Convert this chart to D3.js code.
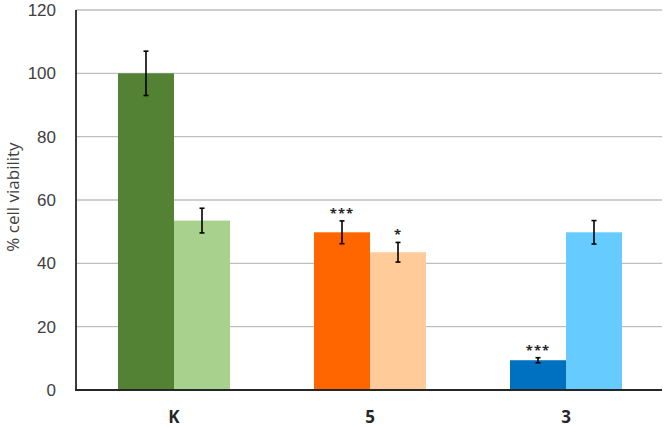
<!DOCTYPE html>
<html>
<head>
<meta charset="utf-8">
<script src="https://cdn.jsdelivr.net/npm/d3@7"></script>
<style>
  body { margin: 0; background: #fff; }
  svg { display: block; font-family: "Open Sans", "Liberation Sans", sans-serif; }
</style>
</head>
<body>
<div id="chart"></div>
<script>
// categories and the two bars in each group
var categories = ["K", "5", "3"];
var firstValues = [100, 49.8, 9.4];
var firstErrors = [7, 3.6, 0.8];
var secondValues = [53.5, 43.5, 49.8];
var secondErrors = [3.9, 3.1, 3.7];
var firstStars = ["", "***", "***"];
var secondStars = ["", "*", ""];
var firstColors = ["#548235", "#ff6600", "#0070c0"];
var secondColors = ["#a9d18e", "#ffcc99", "#66ccff"];
var yTicks = [0, 20, 40, 60, 80, 100, 120];

var width = 666, height = 427;
var margin = {top: 10, right: 2, bottom: 37, left: 76};

var svg = d3.select("#chart").append("svg")
    .attr("width", width)
    .attr("height", height);

var x = d3.scaleBand()
    .domain(categories)
    .range([margin.left, width - margin.right])
    .paddingInner(0)
    .paddingOuter(0);

var y = d3.scaleLinear()
    .domain([0, 120])
    .range([height - margin.bottom, margin.top]);

var barW = 56;

// gridlines
svg.append("g")
    .selectAll("line")
    .data(yTicks.filter(function(t) { return t > 0; }))
    .enter().append("line")
    .attr("x1", margin.left)
    .attr("x2", 662)
    .attr("y1", function(d) { return y(d); })
    .attr("y2", function(d) { return y(d); })
    .attr("stroke", "#bfbfbf")
    .attr("stroke-width", 1.3);

// build rows for both series
var rows = [];
categories.forEach(function(c, i) {
    rows.push({cat: c, value: firstValues[i], err: firstErrors[i], star: firstStars[i], color: firstColors[i], offset: -barW});
    rows.push({cat: c, value: secondValues[i], err: secondErrors[i], star: secondStars[i], color: secondColors[i], offset: 0});
});

var barX = function(d) { return x(d.cat) + x.bandwidth() / 2 + d.offset; };

svg.append("g")
    .selectAll("rect")
    .data(rows)
    .enter().append("rect")
    .attr("x", barX)
    .attr("y", function(d) { return y(d.value); })
    .attr("width", barW)
    .attr("height", function(d) { return y(0) - y(d.value); })
    .attr("fill", function(d) { return d.color; });

// error bars
var err = svg.append("g")
    .selectAll("g")
    .data(rows)
    .enter().append("g")
    .attr("stroke", "#000")
    .attr("stroke-width", 1.6);

err.append("line")
    .attr("x1", function(d) { return barX(d) + barW / 2; })
    .attr("x2", function(d) { return barX(d) + barW / 2; })
    .attr("y1", function(d) { return y(d.value + d.err); })
    .attr("y2", function(d) { return y(d.value - d.err); });

[1, -1].forEach(function(s) {
    err.append("line")
        .attr("x1", function(d) { return barX(d) + barW / 2 - 2.5; })
        .attr("x2", function(d) { return barX(d) + barW / 2 + 2.5; })
        .attr("y1", function(d) { return y(d.value + s * d.err); })
        .attr("y2", function(d) { return y(d.value + s * d.err); });
});

// significance stars
svg.append("g")
    .selectAll("text")
    .data(rows.filter(function(d) { return d.star; }))
    .enter().append("text")
    .attr("x", function(d) { return barX(d) + barW / 2; })
    .attr("y", function(d) { return y(d.value + d.err) - 3; })
    .attr("text-anchor", "middle")
    .attr("font-size", 13)
    .attr("font-weight", "bold")
    .attr("letter-spacing", 1)
    .attr("fill", "#262626")
    .text(function(d) { return d.star; });

// axes lines
svg.append("line")
    .attr("x1", margin.left).attr("x2", margin.left)
    .attr("y1", y(120)).attr("y2", y(0))
    .attr("stroke", "#262626").attr("stroke-width", 1.8);
svg.append("line")
    .attr("x1", margin.left - 1).attr("x2", 662)
    .attr("y1", y(0)).attr("y2", y(0))
    .attr("stroke", "#262626").attr("stroke-width", 1.8);

// y tick labels
svg.append("g")
    .selectAll("text")
    .data(yTicks)
    .enter().append("text")
    .attr("x", 56)
    .attr("y", function(d) { return y(d) + 6; })
    .attr("text-anchor", "end")
    .attr("font-family", "'Liberation Sans', sans-serif")
    .attr("font-size", 17)
    .attr("fill", "#404040")
    .text(function(d) { return d; });

// x labels
svg.append("g")
    .selectAll("text")
    .data(categories)
    .enter().append("text")
    .attr("x", function(d) { return x(d) + x.bandwidth() / 2; })
    .attr("y", 423)
    .attr("text-anchor", "middle")
    .attr("font-size", 17)
    .attr("font-weight", "bold")
    .attr("fill", "#262626")
    .text(function(d) { return d; });

// y axis title
svg.append("text")
    .attr("transform", "translate(19," + 197 + ") rotate(-90)")
    .attr("text-anchor", "middle")
    .attr("font-size", 17)
    .attr("fill", "#404040")
    .text("% cell  viability");
</script>
</body>
</html>
